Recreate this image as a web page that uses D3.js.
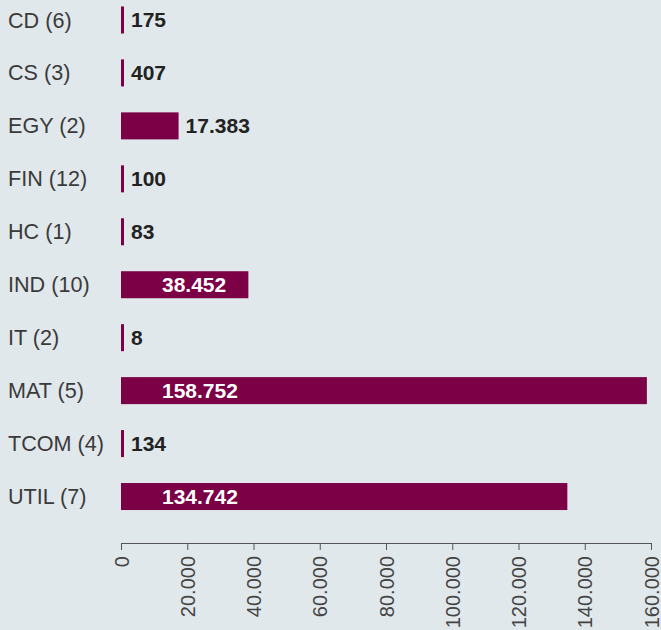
<!DOCTYPE html>
<html>
<head>
<meta charset="utf-8">
<script src="https://cdn.jsdelivr.net/npm/d3@7"></script>
<style>
  html, body { margin: 0; padding: 0; background: #e1e8eb; }
  svg { display: block; font-family: "Liberation Sans", Arial, Helvetica, sans-serif; }
</style>
</head>
<body>
<div id="chart"></div>
<script>
// sector categories and counts shown in brackets
const categories = ['CD (6)', 'CS (3)', 'EGY (2)', 'FIN (12)', 'HC (1)', 'IND (10)', 'IT (2)', 'MAT (5)', 'TCOM (4)', 'UTIL (7)'];
const values = [175, 407, 17383, 100, 83, 38452, 8, 158752, 134, 134742];
const tickValues = [0, 20000, 40000, 60000, 80000, 100000, 120000, 140000, 160000];

const width = 661;
const height = 630;

const locale = d3.formatLocale({ decimal: ',', thousands: '.', grouping: [3], currency: ['', ' €'] });
const fmt = locale.format(',.0f');

const data = categories.map((c, i) => ({ cat: c, value: values[i] }));

const svg = d3.select('#chart')
  .append('svg')
  .attr('width', width)
  .attr('height', height);

const x = d3.scaleLinear()
  .domain([0, 160000])
  .range([121, 651]);

const y = d3.scaleBand()
  .domain(categories)
  .range([-6.5, 523])
  .paddingInner(0.49)
  .paddingOuter(0.245);

// Bars
svg.append('g')
  .selectAll('rect')
  .data(data)
  .join('rect')
  .attr('x', x(0))
  .attr('y', d => y(d.cat))
  .attr('width', d => Math.max(3, x(d.value) - x(0)))
  .attr('height', y.bandwidth())
  .attr('fill', '#7b0046');

// Category labels
svg.append('g')
  .selectAll('text')
  .data(data)
  .join('text')
  .attr('x', 8)
  .attr('y', d => y(d.cat) + y.bandwidth() / 2)
  .attr('dy', '0.35em')
  .attr('font-size', '21.6px')
  .attr('fill', '#3a3a3a')
  .text(d => d.cat);

// Value labels: inside for long bars, outside for short ones
const inside = d => x(d.value) - x(0) > 100;
svg.append('g')
  .selectAll('text')
  .data(data)
  .join('text')
  .attr('x', d => inside(d) ? x(0) + 41 : x(0) + Math.max(3, x(d.value) - x(0)) + 7)
  .attr('y', d => y(d.cat) + y.bandwidth() / 2)
  .attr('dy', '0.35em')
  .attr('font-size', '21px')
  .attr('font-weight', 'bold')
  .attr('fill', d => inside(d) ? '#fff' : '#222')
  .text(d => fmt(d.value));

// X axis
const axis = svg.append('g')
  .attr('transform', 'translate(0,543)')
  .call(d3.axisBottom(x)
    .tickValues(tickValues)
    .tickFormat(fmt)
    .tickSize(7)
    .tickSizeOuter(0));

axis.select('.domain').attr('stroke', '#555');
axis.selectAll('.tick line').attr('stroke', '#555');
axis.selectAll('.tick text')
  .attr('font-size', '20px')
  .attr('font-family', '"Liberation Sans", Arial, sans-serif')
  .attr('fill', '#444')
  .attr('transform', 'rotate(-90)')
  .attr('text-anchor', 'end')
  .attr('x', -13)
  .attr('y', 0)
  .attr('dy', '0.35em');
</script>
</body>
</html>
